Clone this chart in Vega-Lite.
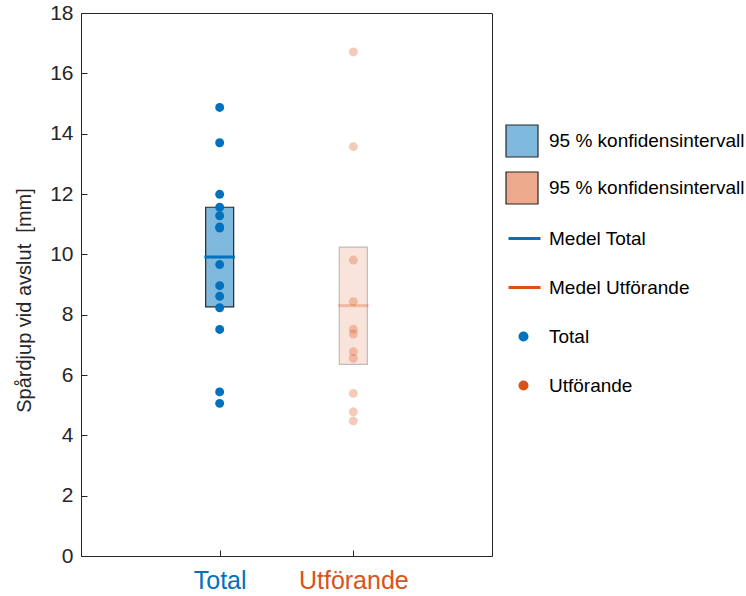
{
  "$schema": "https://vega.github.io/schema/vega-lite/v6.json",
  "autosize": "none",
  "padding": {"left": 81, "top": 13, "right": 254, "bottom": 40},
  "width": 411,
  "height": 543,
  "background": "white",
  "config": {
    "font": "Liberation Sans",
    "view": {"stroke": "#262626", "strokeWidth": 1},
    "axis": {"grid": false, "domainColor": "#262626", "tickColor": "#262626", "labelColor": "#262626", "titleColor": "#262626", "labelFont": "Liberation Sans", "titleFont": "Liberation Sans", "titleFontWeight": "normal"},
    "legend": {"labelFont": "Liberation Sans", "labelColor": "#000000", "labelFontSize": 19, "symbolOpacity": 1, "labelLimit": 400}
  },
  "datasets": {
    "points": [
      {"group": "Total", "x": 1, "value": 14.87},
      {"group": "Total", "x": 1, "value": 13.70},
      {"group": "Total", "x": 1, "value": 11.99},
      {"group": "Total", "x": 1, "value": 11.56},
      {"group": "Total", "x": 1, "value": 11.28},
      {"group": "Total", "x": 1, "value": 10.91},
      {"group": "Total", "x": 1, "value": 10.87},
      {"group": "Total", "x": 1, "value": 9.66},
      {"group": "Total", "x": 1, "value": 8.96},
      {"group": "Total", "x": 1, "value": 8.61},
      {"group": "Total", "x": 1, "value": 8.23},
      {"group": "Total", "x": 1, "value": 7.51},
      {"group": "Total", "x": 1, "value": 5.44},
      {"group": "Total", "x": 1, "value": 5.06},
      {"group": "Utförande", "x": 2, "value": 16.71},
      {"group": "Utförande", "x": 2, "value": 13.57},
      {"group": "Utförande", "x": 2, "value": 9.81},
      {"group": "Utförande", "x": 2, "value": 8.43},
      {"group": "Utförande", "x": 2, "value": 7.52},
      {"group": "Utförande", "x": 2, "value": 7.36},
      {"group": "Utförande", "x": 2, "value": 6.77},
      {"group": "Utförande", "x": 2, "value": 6.55},
      {"group": "Utförande", "x": 2, "value": 5.39},
      {"group": "Utförande", "x": 2, "value": 4.78},
      {"group": "Utförande", "x": 2, "value": 4.48}
    ],
    "summary": [
      {"group": "Total", "x": 1, "lo": 8.26, "hi": 11.56, "mean": 9.91, "ci": "ciT", "meanLabel": "Medel Total"},
      {"group": "Utförande", "x": 2, "lo": 6.35, "hi": 10.24, "mean": 8.30, "ci": "ciU", "meanLabel": "Medel Utförande"}
    ]
  },
  "layer": [
    {
      "data": {"name": "summary"},
      "mark": {"type": "bar", "size": 28, "stroke": "#262626", "strokeWidth": 1.2},
      "encoding": {
        "x": {"field": "x", "type": "quantitative", "scale": {"domain": [0, 3], "nice": false, "zero": false},
          "axis": {"values": [1, 2], "title": null, "labelExpr": "datum.value == 1 ? 'Total' : 'Utförande'", "labelFontSize": 25, "labelPadding": 18, "tickSize": -6,
            "labelColor": {"condition": {"test": "datum.value == 1", "value": "#0072BD"}, "value": "#D95319"}}},
        "y": {"field": "lo", "type": "quantitative", "scale": {"domain": [0, 18], "nice": false},
          "axis": {"values": [0, 2, 4, 6, 8, 10, 12, 14, 16, 18], "title": "Spårdjup vid avslut \u00a0[mm]", "labelFontSize": 21, "titleFontSize": 20, "labelPadding": 14, "tickSize": -6, "titlePadding": 15, "titleY": 287}},
        "y2": {"field": "hi"},
        "fill": {"field": "ci", "type": "nominal", "scale": {"domain": ["ciT", "ciU"], "range": ["#80B9DE", "#ECA98C"]},
          "legend": {"title": null, "orient": "none", "legendX": 424, "legendY": 111, "symbolType": "square", "symbolSize": 1024, "symbolStrokeColor": "#262626", "symbolStrokeWidth": 1.2, "labelExpr": "'95 % konfidensintervall'", "rowPadding": 9, "labelOffset": 10}},
        "opacity": {"field": "group", "type": "nominal", "scale": {"domain": ["Total", "Utförande"], "range": [1, 0.3]}, "legend": null}
      }
    },
    {
      "data": {"name": "summary"},
      "mark": {"type": "tick", "orient": "horizontal", "size": 28, "thickness": 0.5, "filled": false, "strokeWidth": 2.5},
      "encoding": {
        "x": {"field": "x", "type": "quantitative"},
        "y": {"field": "mean", "type": "quantitative"},
        "color": {"field": "meanLabel", "type": "nominal", "scale": {"domain": ["Medel Total", "Medel Utförande"], "range": ["#0072BD", "#D95319"]},
          "legend": {"title": null, "orient": "none", "legendX": 426, "legendY": 208, "symbolType": "stroke", "symbolSize": 1024, "symbolStrokeWidth": 3, "rowPadding": 21, "labelOffset": 7}},
        "opacity": {"field": "group", "type": "nominal", "legend": null}
      }
    },
    {
      "data": {"name": "points"},
      "mark": {"type": "circle", "size": 80},
      "encoding": {
        "x": {"field": "x", "type": "quantitative"},
        "y": {"field": "value", "type": "quantitative"},
        "color": {"field": "group", "type": "nominal", "scale": {"domain": ["Total", "Utförande"], "range": ["#0072BD", "#D95319"]},
          "legend": {"title": null, "orient": "none", "legendX": 433, "legendY": 314, "symbolType": "circle", "symbolSize": 100, "rowPadding": 29, "labelOffset": 16}},
        "opacity": {"field": "group", "type": "nominal", "legend": null}
      }
    }
  ],
  "resolve": {"scale": {"color": "independent"}}
}
